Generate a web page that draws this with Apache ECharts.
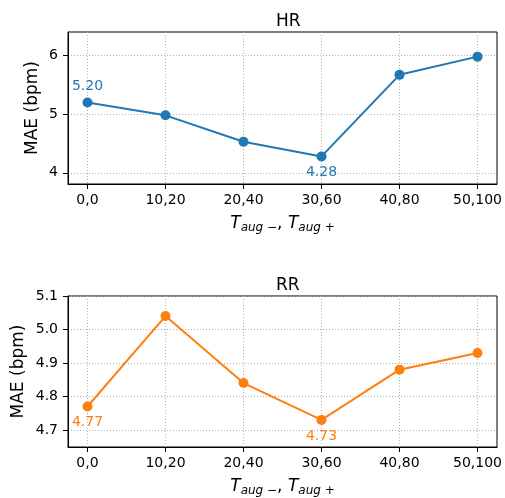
<!DOCTYPE html>
<html>
<head>
<meta charset="utf-8">
<script src="https://cdn.jsdelivr.net/npm/echarts@6/dist/echarts.min.js"></script>
<style>html,body{margin:0;padding:0;background:#fff}#c{width:505px;height:498px}</style>
</head>
<body>
<div id="c"></div>
<script>
var categories = ['0,0', '10,20', '20,40', '30,60', '40,80', '50,100'];
var hrValues = [5.20, 4.98, 4.53, 4.28, 5.67, 5.98];
var rrValues = [4.77, 5.04, 4.84, 4.73, 4.88, 4.93];
var hrTicks = [4, 5, 6];
var rrTicks = [4.7, 4.8, 4.9, 5.0, 5.1];
var hrLabelled = {0: 'top', 3: 'bottom'};
var rrLabelled = {0: 'bottom', 3: 'bottom'};

var FONT = 'DejaVu Sans';
var blue = '#1f77b4', orange = '#ff7f0e';
var catIdx = categories.map(function (c, i) { return i; });

function xAxis(gi) {
  return {
    type: 'value', gridIndex: gi, min: -0.25, max: 5.25,
    axisLine: {show: true, onZero: false, lineStyle: {color: '#000', width: 1}},
    axisTick: {show: true, customValues: catIdx, length: 5, lineStyle: {color: '#000'}},
    axisLabel: {customValues: catIdx, margin: 9, fontFamily: FONT, fontSize: 14, color: '#000',
      formatter: function (v) { return categories[Math.round(v)]; }},
    splitLine: {show: true, lineStyle: {type: [1, 2], color: '#b0b0b0', width: 1}},
    name: '{t|T}{s|aug \u2212}{n|, }{t|T}{s|aug +}',
    nameLocation: 'middle', nameGap: 29, nameMoveOverlap: false,
    nameTextStyle: {rich: {
      t: {fontFamily: FONT, fontStyle: 'italic', fontSize: 17, color: '#000'},
      n: {fontFamily: FONT, fontSize: 17, color: '#000'},
      s: {fontFamily: FONT, fontStyle: 'italic', fontSize: 12, color: '#000', padding: [9, 0, 0, 0]}
    }}
  };
}
function yAxis(gi, min, max, ticks, dec, gap) {
  return {
    type: 'value', gridIndex: gi, min: min, max: max,
    axisLine: {show: true, onZero: false, lineStyle: {color: '#000', width: 1}},
    axisTick: {show: true, customValues: ticks, length: 5, lineStyle: {color: '#000'}},
    axisLabel: {customValues: ticks, margin: 10, fontFamily: FONT, fontSize: 14, color: '#000',
      formatter: function (v) { return v.toFixed(dec); }},
    splitLine: {show: true, lineStyle: {type: [1, 2], color: '#b0b0b0', width: 1}},
    name: 'MAE (bpm)', nameLocation: 'middle', nameGap: gap, nameMoveOverlap: false,
    nameTextStyle: {fontFamily: FONT, fontSize: 17, color: '#000'}
  };
}
function series(gi, vals, color, labelled) {
  return {
    type: 'line', xAxisIndex: gi, yAxisIndex: gi,
    symbol: 'circle', symbolSize: 10, lineStyle: {color: color, width: 2},
    itemStyle: {color: color}, animation: false,
    data: vals.map(function (v, i) {
      var d = {value: [i, v]};
      if (labelled[i]) {
        d.label = {show: true, position: labelled[i], distance: 4, color: color,
          fontFamily: FONT, fontSize: 14,
          formatter: function (p) { return p.value[1].toFixed(2); }};
      }
      return d;
    })
  };
}

var chart = echarts.init(document.getElementById('c'));
chart.setOption({
  backgroundColor: '#fff',
  animation: false,
  title: [
    {text: 'HR', left: 271, top: 8, textStyle: {fontFamily: FONT, fontSize: 17, fontWeight: 'normal', color: '#000'}},
    {text: 'RR', left: 271, top: 272, textStyle: {fontFamily: FONT, fontSize: 17, fontWeight: 'normal', color: '#000'}}
  ],
  grid: [
    {left: 68, right: 7, top: 32, height: 152, show: true, borderColor: '#000', borderWidth: 1},
    {left: 68, right: 7, top: 296, height: 153, show: true, borderColor: '#000', borderWidth: 1}
  ],
  xAxis: [xAxis(0), xAxis(1)],
  yAxis: [yAxis(0, 3.81, 6.40, hrTicks, 0, 27), yAxis(1, 4.649, 5.1, rrTicks, 1, 41)],
  series: [series(0, hrValues, blue, hrLabelled), series(1, rrValues, orange, rrLabelled)]
});
</script>
</body>
</html>
